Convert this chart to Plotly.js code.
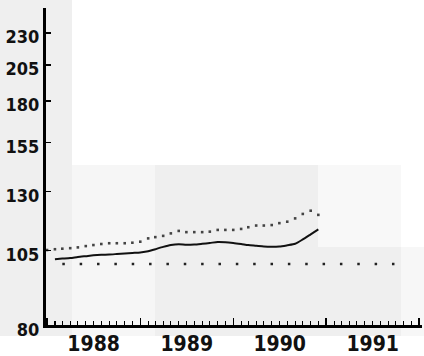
<!DOCTYPE html>
<html>
<head>
<meta charset="utf-8">
<script src="https://cdn.plot.ly/plotly-3.0.1.min.js"></script>
<style>
  html, body { margin: 0; padding: 0; background: #ffffff; }
  #wrap { position: relative; width: 424px; height: 356px; overflow: hidden; }
  .bg { position: absolute; }
  #chart { position: absolute; left: 0; top: 0; width: 424px; height: 356px; }
</style>
</head>
<body>
<div id="wrap">
  <div class="bg" style="left:0;top:0;width:72px;height:336px;background:#efefef"></div>
  <div class="bg" style="left:72px;top:165px;width:83px;height:171px;background:#f6f6f6"></div>
  <div class="bg" style="left:155px;top:165px;width:163px;height:171px;background:#efefef"></div>
  <div class="bg" style="left:318px;top:165px;width:83px;height:82px;background:#f8f8f8"></div>
  <div class="bg" style="left:318px;top:247px;width:83px;height:89px;background:#efefef"></div>
  <div class="bg" style="left:401px;top:247px;width:23px;height:89px;background:#f7f7f7"></div>
  <div id="chart"></div>
</div>
<script>
// Months (first of month), Jan 1988 .. Dec 1990
var months = [
  '1988-01-01','1988-02-01','1988-03-01','1988-04-01','1988-05-01','1988-06-01',
  '1988-07-01','1988-08-01','1988-09-01','1988-10-01','1988-11-01','1988-12-01',
  '1989-01-01','1989-02-01','1989-03-01','1989-04-01','1989-05-01','1989-06-01',
  '1989-07-01','1989-08-01','1989-09-01','1989-10-01','1989-11-01','1989-12-01',
  '1990-01-01','1990-02-01','1990-03-01','1990-04-01','1990-05-01','1990-06-01',
  '1990-07-01','1990-08-01','1990-09-01','1990-10-01','1990-11-01','1990-12-01'
];

// Solid series: Feb 1988 .. Dec 1990
var solidMonths = months.slice(1);
var solidValues = [
  101.8, 102.0, 102.2, 102.6, 102.9, 103.2, 103.4, 103.5, 103.7, 103.9, 104.1,
  104.3, 104.7, 105.5, 106.4, 107.1, 107.4, 107.2, 107.3, 107.6, 107.9, 108.3, 108.2,
  107.9, 107.5, 107.1, 106.8, 106.5, 106.4, 106.5, 107.0, 107.6, 109.3, 111.3, 113.3
];

// Dotted series: Jan 1988 .. Dec 1990
var dottedValues = [
  105.2, 105.5, 105.7, 105.9, 106.2, 106.7, 107.1, 107.5, 107.8, 107.8, 107.8, 108.0,
  108.4, 109.7, 110.2, 110.7, 111.7, 112.7, 112.2, 112.2, 112.2, 112.4, 113.1, 113.1,
  113.1, 113.5, 114.2, 114.9, 114.9, 115.1, 115.9, 116.5, 117.9, 119.8, 121.2, 119.4
];

// Base index line
var baseMonths = ['1988-03-01', '1991-11-01'];
var baseValues = [100, 100];

// Axis ticks
var yTicks = [80, 105, 130, 155, 180, 205, 230];
var yTickText = ['80', '105', '130', '155', '180', '205', '230'];

var labelFont = "'DejaVu Sans Condensed', 'DejaVu Sans', sans-serif";

var traces = [
  {
    x: baseMonths, y: baseValues, type: 'scatter', mode: 'lines',
    line: { color: '#222222', width: 2.5, dash: '2.5px,14.85px' },
    hoverinfo: 'skip', showlegend: false
  },
  {
    x: months, y: dottedValues, type: 'scatter', mode: 'markers',
    marker: { color: '#444444', size: 2.6, symbol: 'square' },
    showlegend: false
  },
  {
    x: solidMonths, y: solidValues, type: 'scatter', mode: 'lines',
    line: { color: '#111111', width: 2, shape: 'spline', smoothing: 0.6 },
    showlegend: false
  }
];

var layout = {
  width: 424, height: 356,
  margin: { l: 45, r: 2, t: 8, b: 30 },
  paper_bgcolor: 'rgba(0,0,0,0)',
  plot_bgcolor: 'rgba(0,0,0,0)',
  showlegend: false,
  shapes: [
    { type: 'line', xref: 'paper', yref: 'paper', x0: 0, x1: 0, y0: 0, y1: 1,
      line: { color: '#000000', width: 2 }, layer: 'above' },
    { type: 'line', xref: 'paper', yref: 'paper', x0: 0, x1: 1, y0: 0, y1: 0,
      line: { color: '#000000', width: 2 }, layer: 'above' }
  ],
  xaxis: {
    type: 'date',
    range: ['1987-12-24', '1992-01-12'],
    showline: true, linecolor: '#000000', linewidth: 2,
    showgrid: false, zeroline: false,
    ticks: 'inside', ticklen: 8, tickwidth: 1.5, tickcolor: '#000000',
    tick0: '1988-01-01', dtick: 'M12',
    ticklabelmode: 'period', tickformat: '%Y',
    ticklabelstandoff: -2,
    minor: { dtick: 'M1', ticks: 'inside', ticklen: 5, tickwidth: 1.2, tickcolor: '#000000', showgrid: false },
    tickfont: { family: labelFont, size: 21, color: '#111111', weight: 'bold' }
  },
  yaxis: {
    type: 'log',
    range: [Math.log10(80), 2.4008],
    showline: true, linecolor: '#000000', linewidth: 2,
    showgrid: false, zeroline: false,
    tickmode: 'array', tickvals: yTicks, ticktext: yTickText,
    ticks: 'inside', ticklen: 6, tickwidth: 1.5, tickcolor: '#000000',
    ticklabelshift: 4,
    tickfont: { family: labelFont, size: 18, color: '#111111', weight: 'bold' }
  }
};

Plotly.newPlot('chart', traces, layout, { staticPlot: true, displayModeBar: false });
</script>
</body>
</html>
